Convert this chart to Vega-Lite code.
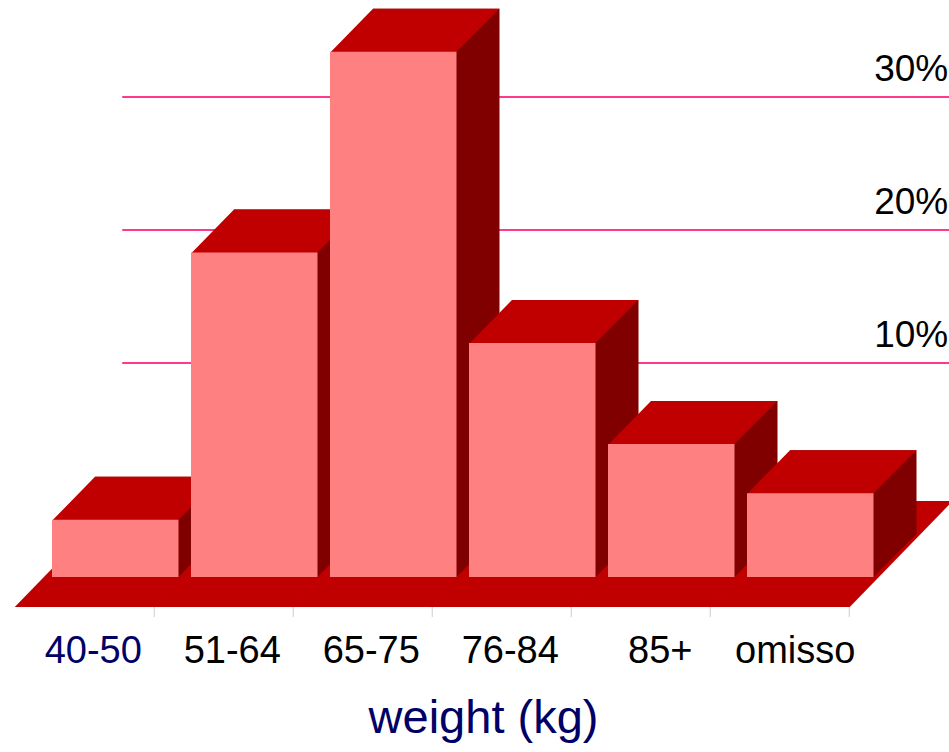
{
  "$schema": "https://vega.github.io/schema/vega-lite/v6.json",
  "width": 949,
  "height": 622,
  "autosize": {"type": "none"},
  "padding": {"left": 0, "top": 0, "right": 0, "bottom": 130},
  "background": "white",
  "config": {"view": {"stroke": null}},
  "datasets": {
    "weights": [
      {"weight": "40-50", "share": 0.043},
      {"weight": "51-64", "share": 0.244},
      {"weight": "65-75", "share": 0.395},
      {"weight": "76-84", "share": 0.176},
      {"weight": "85+", "share": 0.100},
      {"weight": "omisso", "share": 0.063}
    ],
    "gridlines": [
      {"level": 0.1},
      {"level": 0.2},
      {"level": 0.3}
    ]
  },
  "data": {"name": "weights"},
  "layer": [
    {
      "description": "floor slab, one oblique slot per category",
      "mark": {
        "type": "point",
        "shape": "M -100.5 30 L 2.5 -76 L 142.5 -76 L 39.5 30 Z",
        "size": 4,
        "filled": true,
        "opacity": 1,
        "color": "#c00000"
      },
      "encoding": {
        "x": {
          "field": "weight",
          "type": "nominal",
          "sort": null,
          "scale": {
            "type": "band",
            "domain": ["40-50", "51-64", "65-75", "76-84", "85+", "omisso"],
            "paddingInner": 0.08993,
            "paddingOuter": 0.45863,
            "align": 0.40784,
            "round": false
          },
          "axis": {
            "title": "weight (kg)",
            "domain": false,
            "ticks": false,
            "tickSize": 0,
            "grid": false,
            "labelAngle": 0,
            "labelFont": "Liberation Sans",
            "labelFontSize": 38,
            "labelBaseline": "alphabetic",
            "labelPadding": 40,
            "labelOffset": {
              "condition": [
                {"test": "datum.value === '85+'", "value": -11},
                {"test": "datum.value === 'omisso'", "value": -15}
              ],
              "value": -22
            },
            "labelColor": {
              "condition": {"test": "datum.value === '40-50'", "value": "#000066"},
              "value": "#000000"
            },
            "labelLimit": 0,
            "labelOverlap": false,
            "titleFont": "Liberation Sans",
            "titleFontSize": 47,
            "titleFontWeight": "normal",
            "titleColor": "#000066",
            "titleX": 483,
            "titleY": 110,
            "titleAlign": "center",
            "titleBaseline": "alphabetic"
          }
        },
        "y": {
          "datum": 0,
          "type": "quantitative",
          "scale": {"domain": [-0.033835, 0.433835], "nice": false, "zero": false},
          "axis": null
        }
      }
    },
    {
      "description": "category ticks along the front edge of the floor",
      "mark": {"type": "rule", "color": "#cccccc", "strokeWidth": 1, "xOffset": 39, "yOffset": 30, "y2Offset": 40},
      "encoding": {
        "x": {"field": "weight", "type": "nominal", "sort": null},
        "y": {"datum": 0, "type": "quantitative", "axis": null},
        "y2": {"datum": 0}
      }
    },
    {
      "description": "gridlines on the back wall",
      "data": {"name": "gridlines"},
      "mark": {"type": "rule", "color": "#ff3a8c", "strokeWidth": 2, "xOffset": 7, "x2Offset": 139, "yOffset": -81},
      "encoding": {
        "x": {"datum": "40-50", "type": "nominal"},
        "x2": {"datum": "omisso"},
        "y": {"field": "level", "type": "quantitative", "axis": null}
      }
    },
    {
      "description": "gridline labels at the right edge",
      "data": {"name": "gridlines"},
      "mark": {
        "type": "text",
        "align": "right",
        "baseline": "alphabetic",
        "font": "Liberation Sans",
        "fontSize": 37,
        "color": "#000000",
        "xOffset": 138,
        "yOffset": -97
      },
      "encoding": {
        "x": {"datum": "omisso", "type": "nominal"},
        "y": {"field": "level", "type": "quantitative", "axis": null},
        "text": {"field": "level", "type": "quantitative", "format": ".0%"}
      }
    },
    {
      "description": "back face of each bar, visible as the shaded side",
      "mark": {"type": "bar", "color": "#800000", "xOffset": 43, "yOffset": -43, "y2Offset": -43},
      "encoding": {
        "x": {"field": "weight", "type": "nominal", "sort": null},
        "y": {"field": "share", "type": "quantitative", "axis": null},
        "y2": {"datum": 0}
      }
    },
    {
      "description": "lower corner of the side face",
      "mark": {
        "type": "point",
        "shape": "M 62.75 -44 L 106.25 -44 L 106.25 -43 L 62.75 0.5 Z",
        "size": 4,
        "filled": true,
        "opacity": 1,
        "color": "#800000"
      },
      "encoding": {
        "x": {"field": "weight", "type": "nominal", "sort": null},
        "y": {"datum": 0, "type": "quantitative", "axis": null}
      }
    },
    {
      "description": "top face of each bar",
      "mark": {
        "type": "point",
        "shape": "M -63.25 1 L -20.25 -43 L 106.25 -43 L 63.25 0 L 63.25 1 Z",
        "size": 4,
        "filled": true,
        "opacity": 1,
        "color": "#c00000"
      },
      "encoding": {
        "x": {"field": "weight", "type": "nominal", "sort": null},
        "y": {"field": "share", "type": "quantitative", "axis": null}
      }
    },
    {
      "description": "front face of each bar",
      "mark": {"type": "bar", "color": "#ff8080"},
      "encoding": {
        "x": {"field": "weight", "type": "nominal", "sort": null},
        "y": {"field": "share", "type": "quantitative", "axis": null},
        "y2": {"datum": 0}
      }
    }
  ]
}
